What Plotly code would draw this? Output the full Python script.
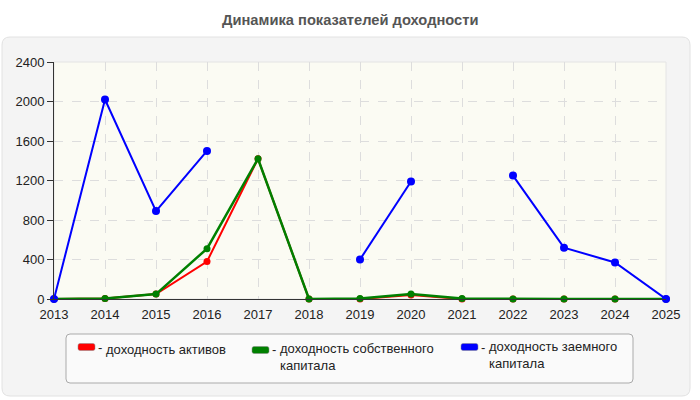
import plotly.graph_objects as go

years = list(range(2013, 2026))
assets = [0, 5, 50, 380, 1420, 0, 0, 40, 0, 0, 0, 0, 0]
equity = [0, 5, 50, 510, 1420, 0, 5, 50, 5, 0, 0, 0, 0]
borrowed = [0, 2020, 890, 1500, None, None, 400, 1190, None, 1250, 520, 370, 0]
names = [["доходность активов"], ["доходность собственного", "капитала"], ["доходность заемного", "капитала"]]
colors = ["#ff0000", "#008000", "#0000ff"]
y_ticks = [0, 400, 800, 1200, 1600, 2000, 2400]

W, H = 700, 400
L, R, T, B = 54, 666, 62, 299
FONT = "Liberation Sans, Arial, sans-serif"

def px(x):
    return (x - L) / (R - L)

def py(y):
    return (B - y) / (B - T)

def rounded(x0, y0, x1, y1, r):
    return (f"M {px(x0 + r)},{py(y0)} L {px(x1 - r)},{py(y0)} "
            f"Q {px(x1)},{py(y0)} {px(x1)},{py(y0 + r)} L {px(x1)},{py(y1 - r)} "
            f"Q {px(x1)},{py(y1)} {px(x1 - r)},{py(y1)} L {px(x0 + r)},{py(y1)} "
            f"Q {px(x0)},{py(y1)} {px(x0)},{py(y1 - r)} L {px(x0)},{py(y0 + r)} "
            f"Q {px(x0)},{py(y0)} {px(x0 + r)},{py(y0)} Z")

fig = go.Figure()
series = [(assets, 0, 2, 7), (equity, 1, 2.5, 7), (borrowed, 2, 2, 8)]
for vals, i, w, ms in series:
    fig.add_trace(go.Scatter(
        x=years, y=vals, mode="lines+markers", name=" ".join(names[i]),
        line=dict(color=colors[i], width=w), marker=dict(color=colors[i], size=ms),
        connectgaps=False, cliponaxis=False, showlegend=False,
    ))

shapes = [
    dict(type="path", xref="paper", yref="paper", path=rounded(2, 37, 690, 396, 8),
         fillcolor="#f4f4f4", line=dict(color="#e2e2e2", width=1), layer="below"),
    dict(type="rect", xref="paper", yref="paper", x0=0, x1=1, y0=0, y1=1,
         fillcolor="#fbfbf3", line=dict(color="#e4e4e4", width=1), layer="below"),
    dict(type="path", xref="paper", yref="paper", path=rounded(66, 334, 633, 383, 4),
         fillcolor="#fafafa", line=dict(color="#aaaaaa", width=1), layer="below"),
]
annotations = [
    dict(text="<b>Динамика показателей доходности</b>", xref="paper", yref="paper",
         x=px(350), y=py(20), showarrow=False, xanchor="center", yanchor="middle",
         font=dict(size=14.7, color="#555555", family=FONT)),
]
legend_pos = [(78, 347, 349), (252, 350, 351), (461, 347, 349)]
for i, (sx, sy, ty) in enumerate(legend_pos):
    shapes.append(dict(type="path", xref="paper", yref="paper",
                       path=rounded(sx, sy - 3.5, sx + 17, sy + 3.5, 2),
                       fillcolor=colors[i], line=dict(color="#888888", width=0.5)))
    annotations.append(dict(text="-", xref="paper", yref="paper", x=px(sx + 18), y=py(ty - 2),
                            showarrow=False, xanchor="left", yanchor="middle",
                            font=dict(size=13, color="#222222", family=FONT)))
    n = len(names[i])
    annotations.append(dict(text="<br>".join(names[i]), xref="paper", yref="paper",
                            x=px(sx + 26), y=py(ty + 6 * (n - 1)),
                            showarrow=False, xanchor="left", yanchor="middle", align="left",
                            font=dict(size=13, color="#222222", family=FONT)))

fig.update_layout(
    width=W, height=H, margin=dict(l=L, r=W - R, t=T, b=H - B, pad=0),
    paper_bgcolor="white", plot_bgcolor="#fbfbf3",
    font=dict(family=FONT, size=13, color="#222222"),
    shapes=shapes, annotations=annotations, showlegend=False,
    xaxis=dict(range=[2013, 2025], tickmode="array", tickvals=years, ticktext=[str(y) for y in years],
               showgrid=True, gridcolor="#dddddd", griddash="dash", gridwidth=1,
               showline=True, linecolor="#333333", linewidth=1, ticks="outside", ticklen=3,
               tickcolor="rgba(0,0,0,0)", zeroline=False,
               tickfont=dict(size=13, color="#222222"), fixedrange=True),
    yaxis=dict(range=[0, 2400], tickmode="array", tickvals=y_ticks,
               showgrid=True, gridcolor="#dddddd", griddash="dash", gridwidth=1,
               showline=True, linecolor="#333333", linewidth=1, ticks="outside", ticklen=6,
               tickcolor="#333333", zeroline=False, tickfont=dict(size=13, color="#222222"),
               fixedrange=True),
)
fig.write_html("out.html")
